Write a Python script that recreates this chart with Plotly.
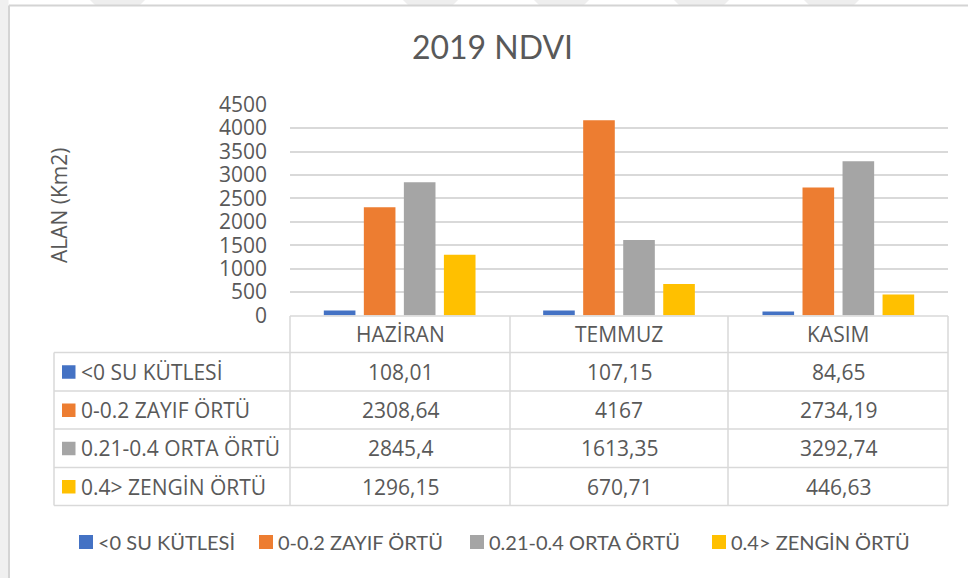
import plotly.graph_objects as go

W, H = 968, 578

months = ["HAZİRAN", "TEMMUZ", "KASIM"]
series_names = ["<0 SU KÜTLESİ", "0-0.2 ZAYIF ÖRTÜ", "0.21-0.4 ORTA ÖRTÜ", "0.4> ZENGİN ÖRTÜ"]
su_kutlesi = [108.01, 107.15, 84.65]
zayif_ortu = [2308.64, 4167, 2734.19]
orta_ortu = [2845.4, 1613.35, 3292.74]
zengin_ortu = [1296.15, 670.71, 446.63]
series_values = [su_kutlesi, zayif_ortu, orta_ortu, zengin_ortu]
colors = ["#4472C4", "#ED7D31", "#A5A5A5", "#FFC000"]
y_ticks = [0, 500, 1000, 1500, 2000, 2500, 3000, 3500, 4000, 4500]

TXT = "#595959"
GRID = "#D9D9D9"
FONT = "Open Sans"
TFONT = "Lato"


def X(px):
    return px / W


def Y(py):
    return 1 - py / H


def fmt(v):
    return str(v).replace(".", ",")


fig = go.Figure()
for name, vals, col in zip(series_names, series_values, colors):
    fig.add_trace(go.Bar(x=months, y=vals, name=name, showlegend=False,
                         marker=dict(color=col, line=dict(width=0))))

# plot geometry (pixels)
plot_l, plot_r = 290, 948
plot_t, plot_b = 104.7, 315.5
col_edges = [290, 510, 728, 948]
row_edges = [316, 352.5, 391, 429, 467.5, 505.5]
tbl_l = 54

shapes = []
# faint page background decorations (left strip and top stripes)
shapes.append(dict(type="rect", xref="paper", yref="paper", x0=X(0), x1=X(8.5), y0=Y(578), y1=Y(0),
                   fillcolor="#F0F0F0", line=dict(width=0), layer="below"))
for sx in [90, 403, 534, 674, 804]:
    path = f"M {X(sx)} {Y(0)} L {X(sx + 55)} {Y(0)} L {X(sx + 50)} {Y(5)} L {X(sx + 5)} {Y(5)} Z"
    shapes.append(dict(type="path", xref="paper", yref="paper", path=path, fillcolor="#EEEEEE",
                       line=dict(width=0), layer="below"))
# outer chart border (left & top)
border = dict(color="#D4D4D4", width=2)
shapes.append(dict(type="line", xref="paper", yref="paper", x0=X(9), x1=X(968), y0=Y(5.5), y1=Y(5.5), line=border))
shapes.append(dict(type="line", xref="paper", yref="paper", x0=X(9), x1=X(9), y0=Y(5.5), y1=Y(578), line=border))

line = dict(color=GRID, width=1.5)
# table horizontal lines
for i, ry in enumerate(row_edges):
    x0 = plot_l if i == 0 else tbl_l
    shapes.append(dict(type="line", xref="paper", yref="paper", x0=X(x0), x1=X(plot_r), y0=Y(ry), y1=Y(ry), line=line))
# table vertical lines
shapes.append(dict(type="line", xref="paper", yref="paper", x0=X(tbl_l), x1=X(tbl_l),
                   y0=Y(row_edges[1]), y1=Y(row_edges[-1]), line=line))
for cx in col_edges:
    shapes.append(dict(type="line", xref="paper", yref="paper", x0=X(cx), x1=X(cx),
                       y0=Y(row_edges[0]), y1=Y(row_edges[-1]), line=line))

annotations = []
# header row
for j, m in enumerate(months):
    cx = (col_edges[j] + col_edges[j + 1]) / 2
    cy = (row_edges[0] + row_edges[1]) / 2
    annotations.append(dict(x=X(cx), y=Y(cy), xref="paper", yref="paper", text=m, showarrow=False,
                            xanchor="center", yanchor="middle", font=dict(family=FONT, size=21, color=TXT)))
# data rows
for i, (name, vals, col) in enumerate(zip(series_names, series_values, colors)):
    top, bot = row_edges[i + 1], row_edges[i + 2]
    cy = (top + bot) / 2
    shapes.append(dict(type="rect", xref="paper", yref="paper", x0=X(62), x1=X(75.5), y0=Y(cy - 6.5), y1=Y(cy + 7),
                       fillcolor=col, line=dict(width=0)))
    annotations.append(dict(x=X(79), y=Y(cy), xref="paper", yref="paper", text=name, showarrow=False,
                            xanchor="left", yanchor="middle", font=dict(family=FONT, size=21, color=TXT)))
    for j, v in enumerate(vals):
        cx = (col_edges[j] + col_edges[j + 1]) / 2
        annotations.append(dict(x=X(cx), y=Y(cy), xref="paper", yref="paper", text=fmt(v), showarrow=False,
                                xanchor="center", yanchor="middle", font=dict(family=FONT, size=21, color=TXT)))

# custom legend (bottom)
leg_sq_x = [79, 259, 470, 712]
leg_cy = 542
for name, col, sx in zip(series_names, colors, leg_sq_x):
    shapes.append(dict(type="rect", xref="paper", yref="paper", x0=X(sx), x1=X(sx + 14), y0=Y(leg_cy + 7),
                       y1=Y(leg_cy - 7), fillcolor=col, line=dict(width=0)))
    annotations.append(dict(x=X(sx + 17), y=Y(leg_cy), xref="paper", yref="paper", text=name, showarrow=False,
                            xanchor="left", yanchor="middle", font=dict(family=TFONT, size=20, color=TXT)))

# y axis title
annotations.append(dict(x=X(59), y=Y(206), xref="paper", yref="paper", text="ALAN (Km2)", showarrow=False,
                        textangle=-90, xanchor="center", yanchor="middle",
                        font=dict(family=FONT, size=21, color=TXT)))

fig.update_layout(
    width=W, height=H,
    margin=dict(l=0, r=0, t=0, b=0, autoexpand=False),
    paper_bgcolor="white", plot_bgcolor="white",
    showlegend=False,
    title=dict(text="2019 NDVI", x=X(492.5), y=Y(48), xanchor="center", yanchor="middle",
               xref="container", yref="container", automargin=False,
               font=dict(family=TFONT, size=32, color=TXT)),
    barmode="group", bargap=0.27, bargroupgap=0.21,
    xaxis=dict(domain=[X(plot_l), X(plot_r)], showticklabels=False, showgrid=False, zeroline=False,
               showline=False, ticks="", automargin=False),
    yaxis=dict(domain=[Y(plot_b), Y(plot_t)], range=[0, 4500], tickvals=y_ticks, showgrid=True, gridcolor=GRID,
               gridwidth=1.5, zeroline=False, showline=False, ticks="", ticklabelstandoff=22, automargin=False,
               tickfont=dict(family=FONT, size=21, color=TXT)),
    shapes=shapes, annotations=annotations,
)

fig.write_html("out.html", config={"displayModeBar": False},
               post_script="document.body.style.margin='0';")
